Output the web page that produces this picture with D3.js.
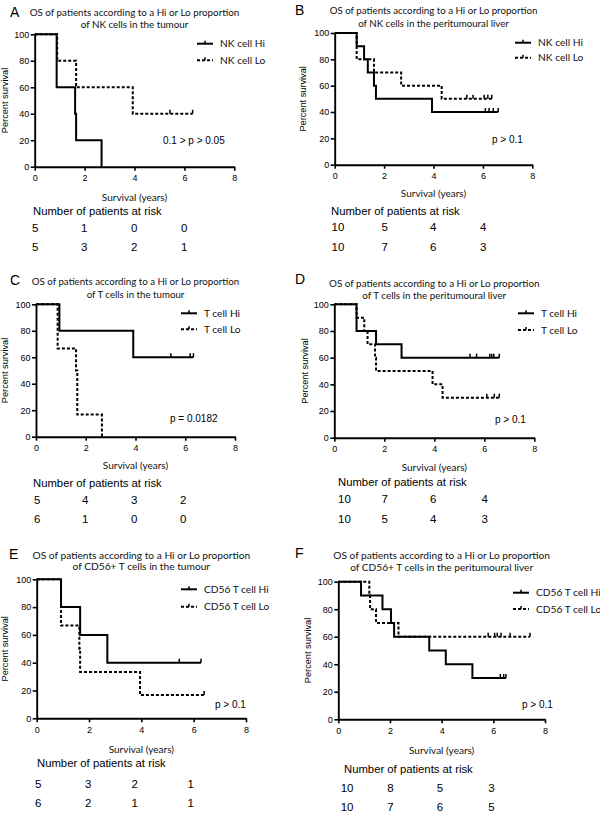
<!DOCTYPE html>
<html><head><meta charset="utf-8">
<script src="https://cdn.jsdelivr.net/npm/d3@7"></script>
<style>body{margin:0;background:#fff} svg{display:block}</style>
</head><body>
<svg id="c" width="600" height="816"></svg>
<script>
// ---------------- DATA ----------------
const xTicks = [0, 2, 4, 6, 8];
const yTicks = [0, 20, 40, 60, 80, 100];
const riskTitle = "Number of patients at risk";
const xTitle = "Survival (years)";
const yTitle = "Percent survival";

// Panel A
const aTitle = ["OS of patients according to a Hi or Lo proportion", "of NK cells in the tumour"];
const aLabels = ["NK cell Hi", "NK cell Lo"];
const aP = "0.1 > p > 0.05";
const aHiT = [0.88, 1.62, 1.66, 2.68], aHiS = [60, 40, 20, 0], aHiC = [];
const aLoT = [0.90, 1.66, 3.93], aLoS = [80, 60, 40], aLoC = [5.42, 6.33];
const aRiskHi = [5, 1, 0, 0], aRiskLo = [5, 3, 2, 1];

// Panel B
const bTitle = ["OS of patients according to a Hi or Lo proportion", "of NK cells in the peritumoural liver"];
const bLabels = ["NK cell Hi", "NK cell Lo"];
const bP = "p > 0.1";
const bHiT = [0.89, 1.19, 1.34, 1.59, 1.67, 3.94], bHiS = [90, 80, 70, 60, 50, 40], bHiC = [6.1, 6.25, 6.42, 6.62];
const bLoT = [0.89, 1.59, 2.69, 4.33], bLoS = [80, 70, 60, 50], bLoC = [5.35, 5.6, 6.05, 6.2, 6.36];
const bRiskHi = [10, 5, 4, 4], bRiskLo = [10, 7, 6, 3];

// Panel C
const cTitle = ["OS of patients according to a Hi or Lo proportion", "of T cells in the tumour"];
const cLabels = ["T cell Hi", "T cell Lo"];
const cP = "p = 0.0182";
const cHiT = [0.94, 3.91], cHiS = [80, 60], cHiC = [5.42, 6.2, 6.33];
const cLoT = [0.87, 1.61, 1.66, 2.65], cLoS = [66.7, 50, 16.7, 0], cLoC = [];
const cRiskHi = [5, 4, 3, 2], cRiskLo = [6, 1, 0, 0];

// Panel D
const dTitle = ["OS of patients according to a Hi or Lo proportion", "of T cells in the peritumoural liver"];
const dLabels = ["T cell Hi", "T cell Lo"];
const dP = "p > 0.1";
const dHiT = [0.89, 1.67, 2.69], dHiS = [80, 70, 60], dHiC = [5.43, 5.69, 6.22, 6.3, 6.38, 6.6];
const dLoT = [0.89, 1.2, 1.33, 1.63, 1.67, 3.93, 4.33], dLoS = [90, 80, 70, 60, 50, 40, 30], dLoC = [6.1, 6.4, 6.6];
const dRiskHi = [10, 7, 6, 4], dRiskLo = [10, 5, 4, 3];

// Panel E
const eTitle = ["OS of patients according to a Hi or Lo proportion", "of CD56+ T cells in the tumour"];
const eLabels = ["CD56 T cell Hi", "CD56 T cell Lo"];
const eP = "p > 0.1";
const eHiT = [0.93, 1.66, 2.7], eHiS = [80, 60, 40], eHiC = [5.45, 6.28];
const eLoT = [0.93, 1.63, 1.66, 3.95], eLoS = [66.7, 50, 33.3, 16.7], eLoC = [6.4];
const eRiskHi = [5, 3, 2, 1], eRiskLo = [6, 2, 1, 1];

// Panel F
const fTitle = ["OS of patients according to a Hi or Lo proportion", "of CD56+ T cells in the peritumoural liver"];
const fLabels = ["CD56 T cell Hi", "CD56 T cell Lo"];
const fP = "p > 0.1";
const fHiT = [0.88, 1.71, 2.04, 2.16, 3.52, 4.16, 5.19], fHiS = [90, 80, 70, 60, 50, 40, 30], fHiC = [6.27, 6.4, 6.49];
const fLoT = [1.2, 1.23, 1.46, 2.33], fLoS = [90, 80, 70, 60], fLoC = [5.8, 6.05, 6.15, 6.3, 6.65, 7.42];
const fRiskHi = [10, 8, 5, 3], fRiskLo = [10, 7, 6, 5];

// ---------------- LAYOUT ----------------
const FT = "Lato, 'Open Sans', sans-serif";
const FN = "'Liberation Sans', Arial, sans-serif";

const panels = [
  {L:"A", lx:10, ly:17.3, x0:34.7, x8:234.3, y100:34.3, y0:166.7, tw:210, tb:[16.2, 27.8],
   title:aTitle, labels:aLabels, p:aP, pxy:[163,143.6], leg:[197,43.7,16.6], xt:200.5, yt:4.5,
   curves:[[aHiT,aHiS,aHiC],[aLoT,aLoS,aLoC]], risk:[aRiskHi,aRiskLo], rt:[33,215], rc:[32,81,131,181], rr:[232,251]},
  {L:"B", lx:295, ly:15.3, x0:334.7, x8:532.3, y100:33, y0:164.7, tw:208, tb:[13.5, 26.8],
   title:bTitle, labels:bLabels, p:bP, pxy:[492,142.6], leg:[515,42.7,15], xt:196.5, yt:303,
   curves:[[bHiT,bHiS,bHiC],[bLoT,bLoS,bLoC]], risk:[bRiskHi,bRiskLo], rt:[331,215], rc:[331.5,381.5,430,480], rr:[231,251]},
  {L:"C", lx:10, ly:285, x0:36, x8:235, y100:304.3, y0:436.7, tw:207.6, tb:[285.2, 297.5],
   title:cTitle, labels:cLabels, p:cP, pxy:[170,421.8], leg:[181,313.3,16], xt:469.2, yt:5,
   curves:[[cHiT,cHiS,cHiC],[cLoT,cLoS,cLoC]], risk:[cRiskHi,cRiskLo], rt:[33,487.3], rc:[34,82,131,180], rr:[504,523.3]},
  {L:"D", lx:295, ly:283.5, x0:334.3, x8:534.3, y100:304.3, y0:437.7, tw:210.7, tb:[286.8, 298.5],
   title:dTitle, labels:dLabels, p:dP, pxy:[495,422.6], leg:[518,313.3,16.7], xt:471.2, yt:305,
   curves:[[dHiT,dHiS,dHiC],[dLoT,dLoS,dLoC]], risk:[dRiskHi,dRiskLo], rt:[338,486], rc:[338,381.5,430,481.5], rr:[503,523]},
  {L:"E", lx:9, ly:559.3, x0:36.7, x8:246, y100:579.3, y0:718.3, tw:218, tb:[558.5, 570.2],
   title:eTitle, labels:eLabels, p:eP, pxy:[215,708], leg:[181,589.3,17.4], xt:752.8, yt:5,
   curves:[[eHiT,eHiS,eHiC],[eLoT,eLoS,eLoC]], risk:[eRiskHi,eRiskLo], rt:[37,767.3], rc:[35,85,131.5,187.5], rr:[788.3,807.3]},
  {L:"F", lx:295, ly:558.3, x0:338.3, x8:545, y100:581.7, y0:719.3, tw:217, tb:[558.5, 570.8],
   title:fTitle, labels:fLabels, p:fP, pxy:[522,707.6], leg:[513,592.7,16.3], xt:754.2, yt:307.5,
   curves:[[fHiT,fHiS,fHiC],[fLoT,fLoS,fLoC]], risk:[fRiskHi,fRiskLo], rt:[344,773.3], rc:[340.7,387.3,436.7,488.3], rr:[792.3,810.7]}
];

const svg = d3.select("#c");

function fitText(sel, w){
  const base = 10;
  sel.attr("font-size", base);
  const len = sel.node().getComputedTextLength();
  sel.attr("font-size", base * w / len);
}

panels.forEach(cfg => {
  const g = svg.append("g");
  const x = d3.scaleLinear().domain([0, 8]).range([cfg.x0, cfg.x8]);
  const y = d3.scaleLinear().domain([0, 100]).range([cfg.y0, cfg.y100]);
  const cx = (cfg.x0 + cfg.x8) / 2;

  // letter
  g.append("text").attr("x", cfg.lx).attr("y", cfg.ly).text(cfg.L)
    .attr("font-family", FN).attr("font-size", 14).attr("fill", "#000");

  // title
  let w1 = null;
  cfg.title.forEach((t, i) => {
    const tx = g.append("text").attr("x", cx).attr("y", cfg.tb[i]).attr("text-anchor", "middle")
      .attr("font-family", FT).attr("fill", "#111").text(t);
    if (i === 0) { fitText(tx, cfg.tw); w1 = +tx.attr("font-size"); }
    else tx.attr("font-size", w1);
  });

  // axes
  const xa = g.append("g").attr("transform", `translate(0,${cfg.y0})`)
    .call(d3.axisBottom(x).tickValues(xTicks).tickSize(4).tickSizeOuter(0).tickPadding(4).tickFormat(d3.format("d")));
  const ya = g.append("g").attr("transform", `translate(${cfg.x0},0)`)
    .call(d3.axisLeft(y).tickValues(yTicks).tickSize(4).tickSizeOuter(0).tickPadding(1.5));
  [xa, ya].forEach(a => {
    a.select(".domain").attr("stroke", "#000").attr("stroke-width", 1.9);
    a.selectAll(".tick line").attr("stroke", "#000").attr("stroke-width", 1.6);
    a.selectAll(".tick text").attr("font-family", FN).attr("font-size", 9).attr("fill", "#000");
  });

  // axis titles
  g.append("text").attr("x", cx).attr("y", cfg.xt).attr("text-anchor", "middle")
    .attr("font-family", FT).attr("font-size", 10).attr("fill", "#111").text(xTitle);
  g.append("text").attr("transform", `translate(${cfg.yt + 3.3},${(cfg.y0 + cfg.y100) / 2}) rotate(-90)`)
    .attr("text-anchor", "middle").attr("font-family", FN).attr("font-size", 9.2).attr("fill", "#000").text(yTitle);

  // curves
  const line = d3.line().x(d => x(d[0])).y(d => y(d[1])).curve(d3.curveStepAfter);
  cfg.curves.forEach(([T, S, C], i) => {
    const pts = [[0, 100]].concat(T.map((t, j) => [t, S[j]]));
    const end = C.length ? d3.max(C) : d3.max(T);
    pts.push([end, S[S.length - 1]]);
    g.append("path").attr("d", line(pts)).attr("fill", "none").attr("stroke", "#000")
      .attr("stroke-width", 2).attr("stroke-dasharray", i ? "3,2" : null);
    C.forEach(ct => {
      const k = d3.bisectRight(T, ct);
      const sv = k === 0 ? 100 : S[k - 1];
      g.append("line").attr("x1", x(ct)).attr("x2", x(ct)).attr("y1", y(sv)).attr("y2", y(sv) - 4)
        .attr("stroke", "#000").attr("stroke-width", 1.5);
    });
  });

  // legend
  cfg.labels.forEach((lab, i) => {
    const ly = cfg.leg[1] + i * cfg.leg[2];
    const lx = cfg.leg[0];
    g.append("line").attr("x1", lx).attr("x2", lx + 16).attr("y1", ly).attr("y2", ly)
      .attr("stroke", "#000").attr("stroke-width", 2).attr("stroke-dasharray", i ? "3,2" : null);
    g.append("line").attr("x1", lx + 8).attr("x2", lx + 8).attr("y1", ly).attr("y2", ly - 3)
      .attr("stroke", "#000").attr("stroke-width", 1.5);
    g.append("text").attr("x", lx + 23).attr("y", ly + 3.6).attr("font-family", FT).attr("font-size", 10.2)
      .attr("fill", "#111").text(lab);
  });

  // p value
  g.append("text").attr("x", cfg.pxy[0]).attr("y", cfg.pxy[1]).attr("font-family", FN).attr("font-size", 10)
    .attr("fill", "#000").text(cfg.p);

  // at risk table
  g.append("text").attr("x", cfg.rt[0]).attr("y", cfg.rt[1]).attr("font-family", FN).attr("font-size", 11.3)
    .attr("fill", "#000").text(riskTitle);
  cfg.risk.forEach((row, r) => {
    row.forEach((v, j) => {
      g.append("text").attr("x", cfg.rc[j]).attr("y", cfg.rr[r]).attr("font-family", FN).attr("font-size", 11.5)
        .attr("fill", "#000").text(v);
    });
  });
});
</script>
</body></html>
